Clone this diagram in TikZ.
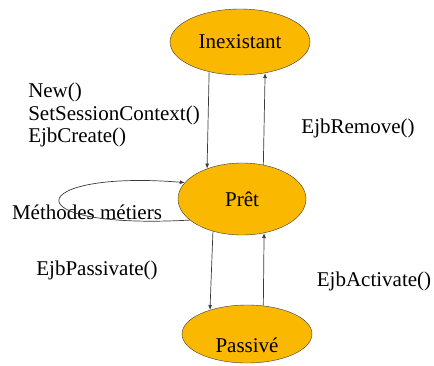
\documentclass[tikz,border=0pt]{standalone}
\usepackage{fontspec}
\setmainfont{Liberation Serif}
\newfontfamily\etatfont{Liberation Serif}
\usepackage{xcolor}
\usepackage{tikz}
\usetikzlibrary{arrows.meta,shapes.geometric}
\definecolor{etat}{HTML}{FBB800}
\definecolor{trait}{HTML}{3A3A3A}
\tikzset{
  etatbox/.style={ellipse,draw=trait,fill=etat,inner sep=0pt,
    font=\etatfont\fontsize{21}{22.5}\selectfont},
  lbl/.style={inner sep=0pt,font=\etatfont\fontsize{21}{22.5}\selectfont},
  trans/.style={draw=trait,line width=0.7pt,-{Latex[length=5pt,width=4pt]}}
}

\begin{document}
\begin{tikzpicture}[x=1pt,y=-1pt]
      \useasboundingbox (0,0) rectangle (434,365);
      \node[etatbox,minimum width=140,minimum height=66] (inex) at (240,42) {Inexistant};
      \node[etatbox,minimum width=128,minimum height=72] (pret) at (242,199) {Prêt};
      \node[etatbox,minimum width=130,minimum height=58] (passive) at (247,334) {\raisebox{-18pt}[0pt][0pt]{Passivé}};
      \node[lbl,align=left] (creer) at (114,115) {New()\\SetSessionContext()\\EjbCreate()};
      \node[lbl] (remove) at (358,128) {EjbRemove()};
      \node[lbl] (metiers) at (87,212) {Méthodes métiers};
      \node[lbl] (passivate) at (97,270) {EjbPassivate()};
      \node[lbl] (activate) at (374,281) {EjbActivate()};
      \draw[trans] (inex.224) -- (pret.139);
      \draw[trans] (pret.58) -- (inex.309);
      \draw[trans] (pret.228) -- (passive.147);
      \draw[trans] (passive.60) -- (pret.303);
      \draw[trans] (pret.202) .. controls +(-181,10) and +(-160,-13) .. (pret.164);
    \end{tikzpicture}
\end{document}
